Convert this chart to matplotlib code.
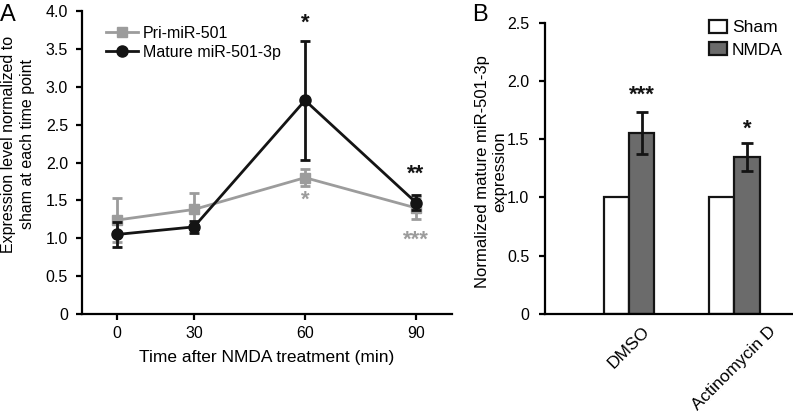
import numpy as np
import matplotlib
matplotlib.use("Agg")
import matplotlib.pyplot as plt
from matplotlib.lines import Line2D

plt.rcParams['font.family'] = ['Liberation Sans', 'DejaVu Sans']

# ---- Panel A data ----
time_min = [0, 30, 60, 90]
pri_mean = [1.24, 1.38, 1.80, 1.40]
pri_err = [0.29, 0.22, 0.11, 0.14]
mat_mean = [1.05, 1.15, 2.82, 1.47]
mat_err = [0.16, 0.08, 0.79, 0.10]
mat_sig = ["", "", "*", "**"]
mat_sig_y = [None, None, 3.84, 1.84]
pri_sig = ["", "", "*", "***"]
pri_sig_y = [None, None, 1.50, 0.98]
a_yticks = [0, 0.5, 1.0, 1.5, 2.0, 2.5, 3.0, 3.5, 4.0]
a_yticklabels = ["0", "0.5", "1.0", "1.5", "2.0", "2.5", "3.0", "3.5", "4.0"]

# ---- Panel B data ----
conditions = ["DMSO", "Actinomycin D"]
sham_mean = [1.0, 1.0]
nmda_mean = [1.55, 1.35]
nmda_err = [0.18, 0.12]
nmda_sig = ["***", "*"]
nmda_sig_y = [1.88, 1.59]
b_yticks = [0, 0.5, 1.0, 1.5, 2.0, 2.5]
b_yticklabels = ["0", "0.5", "1.0", "1.5", "2.0", "2.5"]

GRAY = "#9c9c9c"
BLACK = "#141414"
NMDA_FILL = "#6b6b6b"

W, H = 793, 413
fig = plt.figure(figsize=(W / 100, H / 100), dpi=100)

def fig_rect(l, t, r, b):
    return [l / W, 1 - b / H, (r - l) / W, (b - t) / H]

# ---------------- Panel A ----------------
axA = fig.add_axes(fig_rect(82, 11, 452, 314))
# x axis: first interval is drawn compressed in the original
def fwd(x):
    x = np.asarray(x, dtype=float)
    return np.where(x < 30, 30 - (30 - x) * 77 / 111, x)
def inv(y):
    y = np.asarray(y, dtype=float)
    return np.where(y < 30, 30 - (30 - y) * 111 / 77, y)
axA.set_xscale('function', functions=(fwd, inv))

axA.errorbar(time_min, pri_mean, yerr=pri_err, color=GRAY, marker='s', ms=6.5,
             lw=2, elinewidth=2, capsize=3.5, capthick=2, zorder=3)
axA.errorbar(time_min, mat_mean, yerr=mat_err, color=BLACK, marker='o', ms=8,
             lw=2, elinewidth=2, capsize=3.5, capthick=2, zorder=4)

for t, y, s in zip(time_min, mat_sig_y, mat_sig):
    if s:
        axA.text(t, y, s, ha='center', va='center', fontsize=16,
                 fontweight='bold', color=BLACK)
for t, y, s in zip(time_min, pri_sig_y, pri_sig):
    if s:
        axA.text(t, y, s, ha='center', va='center', fontsize=16,
                 fontweight='bold', color=GRAY)

axA.set_ylim(0, 4.0)
axA.set_xlim(-13.6, 99.7)
axA.set_yticks(a_yticks)
axA.set_yticklabels(a_yticklabels)
axA.set_xticks(time_min)
axA.set_xticklabels([str(t) for t in time_min])
axA.minorticks_off()
for sp in ['top', 'right']:
    axA.spines[sp].set_visible(False)
for sp in ['left', 'bottom']:
    axA.spines[sp].set_linewidth(1.6)
axA.tick_params(axis='both', direction='out', length=4, width=1.6, labelsize=11.5)
axA.tick_params(axis='y', pad=6)
axA.tick_params(axis='x', pad=5)
axA.set_xlabel("Time after NMDA treatment (min)", fontsize=12.5, labelpad=6)
axA.set_ylabel("Expression level normalized to\nsham at each time point", fontsize=11.5,
               linespacing=1.3)
axA.yaxis.set_label_coords(-0.128, 0.56)
handlesA = [Line2D([], [], color=GRAY, marker='s', ms=6.5, lw=2),
            Line2D([], [], color=BLACK, marker='o', ms=8, lw=2)]
axA.legend(handlesA, ["Pri-miR-501", "Mature miR-501-3p"], loc='upper left',
           bbox_to_anchor=(0.065, 0.952), frameon=False, fontsize=11.5,
           handlelength=2.0, handletextpad=0.3, borderaxespad=0, borderpad=0,
           labelspacing=0.25)

# ---------------- Panel B ----------------
axB = fig.add_axes(fig_rect(544.7, 22.7, 793, 314))
x = np.arange(len(conditions))
bw = 0.241
axB.bar(x - bw / 2, sham_mean, width=bw, color='white', edgecolor=BLACK, lw=1.6,
        label="Sham", zorder=2)
axB.bar(x + bw / 2, nmda_mean, width=bw, color=NMDA_FILL, edgecolor=BLACK, lw=1.6,
        label="NMDA", zorder=2)
axB.errorbar(x + bw / 2, nmda_mean, yerr=nmda_err, fmt='none', ecolor=BLACK,
             elinewidth=2, capsize=4.5, capthick=2, zorder=3)
for xi, y, s in zip(x, nmda_sig_y, nmda_sig):
    axB.text(xi + bw / 2, y, s, ha='center', va='center', fontsize=16,
             fontweight='bold', color=BLACK)

axB.set_ylim(0, 2.5)
axB.set_xlim(-0.803, 1.559)
axB.set_yticks(b_yticks)
axB.set_yticklabels(b_yticklabels)
axB.set_xticks(x)
axB.set_xticklabels(conditions, rotation=45, ha='center', va='top')
for sp in ['top', 'right']:
    axB.spines[sp].set_visible(False)
for sp in ['left', 'bottom']:
    axB.spines[sp].set_linewidth(1.6)
axB.tick_params(axis='y', direction='out', length=4, width=1.6, labelsize=11.5, pad=7)
axB.tick_params(axis='x', length=0, labelsize=12.5, pad=7)
axB.set_ylabel("Normalized mature miR-501-3p\nexpression", fontsize=12, linespacing=1.2)
axB.yaxis.set_label_coords(-0.15, 0.49)
axB.legend(loc='upper left', bbox_to_anchor=(0.663, 1.01), frameon=False, fontsize=12.5,
           handlelength=1.0, handleheight=0.75, handletextpad=0.3, borderaxespad=0,
           borderpad=0, labelspacing=0.4)

fig.text(0 / W, 1 - 4 / H, "A", fontsize=17, ha='left', va='top')
fig.text(472 / W, 1 - 4 / H, "B", fontsize=17, ha='left', va='top')

fig.savefig("out.png", dpi=100)
